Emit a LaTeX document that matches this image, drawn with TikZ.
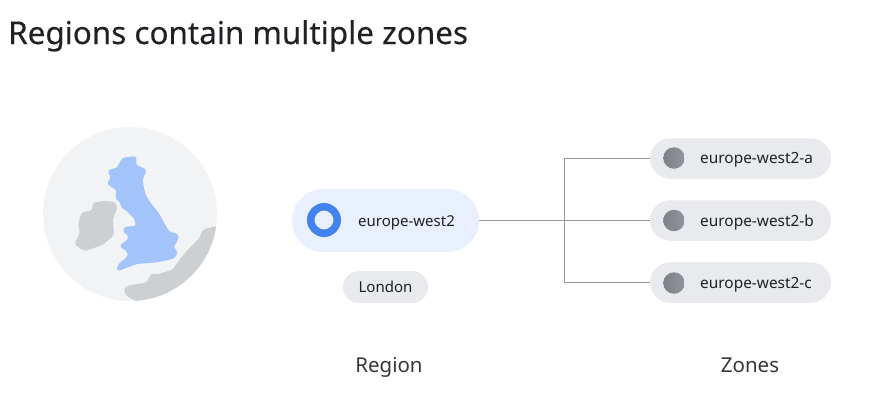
\documentclass[tikz,border=0pt]{standalone}
\usepackage{fontspec}
\setmainfont{Noto Sans}
\newfontfamily\labelfont{Noto Sans}
\usetikzlibrary{shapes.misc}
\definecolor{ink}{HTML}{202124}
\definecolor{pillgrey}{HTML}{E9EAED}
\definecolor{pillblue}{HTML}{E8F0FE}
\definecolor{ringblue}{HTML}{4182EE}
\definecolor{ukblue}{HTML}{A3C4FB}
\definecolor{globe}{HTML}{F1F3F4}
\definecolor{land}{HTML}{CDD0D2}
\definecolor{wire}{HTML}{999999}
\definecolor{dotleft}{HTML}{7D8087}
\definecolor{dotright}{HTML}{93959C}
\tikzset{
  pill/.style={rounded rectangle, inner sep=0pt, draw=none},
  zonepill/.style={pill, fill=pillgrey, minimum width=181pt, minimum height=40.5pt},
  zonedot/.style={circle, inner sep=0pt, minimum size=21.5pt, left color=dotleft, right color=dotright, draw=none},
  pilltext/.style={font=\labelfont\fontsize{15}{17}\selectfont, text=ink, inner sep=0pt},
  zonetext/.style={font=\labelfont\fontsize{15.4}{17}\selectfont, text=ink, inner sep=0pt, anchor=base west},
  captiontext/.style={font=\labelfont\fontsize{20.5}{24}\selectfont, text=ink!90, inner sep=0pt},
  wireline/.style={draw=wire, line width=1pt},
  mapshape/.style={rounded corners=2.5pt, line width=1.3pt, line join=round},
}
\begin{document}
\begin{tikzpicture}[x=1pt,y=-1pt]
\useasboundingbox (0,0) rectangle (891,408);
\node[anchor=base west, inner sep=0pt, text=ink, font=\addfontfeature{FakeBold=0.25}\fontsize{31.4}{36}\selectfont] (title) at (8,44) {Regions contain multiple zones};

% globe
\fill[globe] (130,214) circle (87);
\begin{scope}
  \clip (130,214) circle (87);
  \begin{scope}[shift={(30,120)}, x=0.3333pt, y=-0.3333pt]
    \filldraw[land, mapshape] (560,320) -- (520,330) -- (510,355) -- (480,385) -- (450,420) -- (430,450) -- (385,465) -- (365,462) -- (350,490) -- (295,498) -- (282,510) -- (295,530) -- (340,550) -- (600,600) -- (600,320) -- cycle;
  \end{scope}
\end{scope}
\begin{scope}[shift={(30,120)}, x=0.3333pt, y=-0.3333pt]
  \filldraw[land, mapshape] (190,250) -- (220,245) -- (255,248) -- (260,265) -- (247,295) -- (250,345) -- (218,372) -- (165,392) -- (135,372) -- (152,338) -- (146,315) -- (155,280) -- (188,272) -- cycle;
  \filldraw[ukblue, mapshape] (278,115) -- (318,110) -- (316,135) -- (348,150) -- (335,180) -- (345,225) -- (360,250) -- (385,280) -- (415,335) -- (445,345) -- (440,365) -- (428,380) -- (442,398) -- (430,415) -- (380,425) -- (320,430) -- (262,452) -- (265,435) -- (295,410) -- (295,395) -- (270,378) -- (295,360) -- (297,345) -- (280,335) -- (285,322) -- (320,320) -- (315,295) -- (290,270) -- (275,262) -- (272,245) -- (258,235) -- (262,210) -- (232,190) -- (245,175) -- (235,152) -- (262,145) -- cycle;
\end{scope}

% region
\node[pill, fill=pillblue, minimum width=187pt, minimum height=63pt] (region) at (385.5,220.5) {};
\node[circle, draw=ringblue, line width=7.5pt, minimum size=26.5pt, inner sep=0pt] (ring) at (324,220) {};
\node[pilltext, anchor=base west] (regionlabel) at (358,226.5) {europe-west2};
\node[pill, fill=pillgrey, minimum width=85pt, minimum height=32pt] (london) at (385.5,287) {};
\node[pilltext, anchor=base] (londonlabel) at (385.5,292.5) {London};

% zones
\node[zonepill] (za) at (740.5,158.5) {};
\node[zonepill] (zb) at (740.5,220.5) {};
\node[zonepill] (zc) at (740.5,282.5) {};
\node[zonedot] (da) at (674,158) {};
\node[zonedot] (db) at (674,220.5) {};
\node[zonedot] (dc) at (674,283) {};
\node[zonetext] (la) at (700,163.5) {europe-west2-a};
\node[zonetext] (lb) at (700,226) {europe-west2-b};
\node[zonetext] (lc) at (700,288.5) {europe-west2-c};

% connectors
\coordinate (junction) at (564.5,220.5);
\draw[wireline] (region.east) -- (zb.west);
\draw[wireline] (za.west) -- (junction |- za.west) -- (junction |- zc.west) -- (zc.west);

% captions
\node[captiontext, anchor=base] (regioncap) at (389,372) {Region};
\node[captiontext, anchor=base] (zonescap) at (750,372) {Zones};
\end{tikzpicture}
\end{document}
